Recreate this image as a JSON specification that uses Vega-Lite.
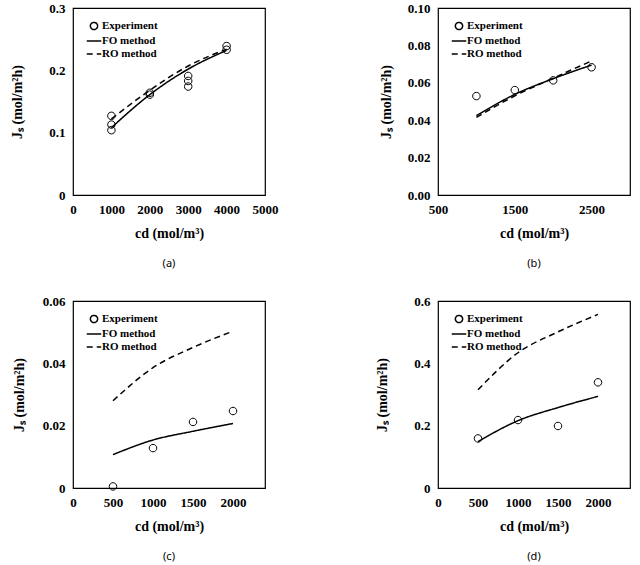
{
  "$schema": "https://vega.github.io/schema/vega-lite/v6.json",
  "background": "white",
  "padding": {"left": 10, "top": 1, "right": 5, "bottom": 2},
  "columns": 2,
  "spacing": {"row": 24, "column": 96},
  "resolve": {
    "scale": {"x": "independent", "y": "independent", "shape": "independent", "strokeDash": "independent"},
    "legend": {"shape": "independent", "strokeDash": "independent"}
  },
  "datasets": {
    "a_exp": [
      {"cd": 1000, "Js": 0.104, "method": "Experiment"},
      {"cd": 1000, "Js": 0.113, "method": "Experiment"},
      {"cd": 1000, "Js": 0.127, "method": "Experiment"},
      {"cd": 2000, "Js": 0.161, "method": "Experiment"},
      {"cd": 2000, "Js": 0.164, "method": "Experiment"},
      {"cd": 3000, "Js": 0.174, "method": "Experiment"},
      {"cd": 3000, "Js": 0.183, "method": "Experiment"},
      {"cd": 3000, "Js": 0.191, "method": "Experiment"},
      {"cd": 4000, "Js": 0.233, "method": "Experiment"},
      {"cd": 4000, "Js": 0.239, "method": "Experiment"}
    ],
    "a_model": [
      {"cd": 1000, "Js": 0.108, "method": "FO method"},
      {"cd": 2000, "Js": 0.161, "method": "FO method"},
      {"cd": 3000, "Js": 0.202, "method": "FO method"},
      {"cd": 4000, "Js": 0.232, "method": "FO method"},
      {"cd": 1000, "Js": 0.122, "method": "RO method"},
      {"cd": 2000, "Js": 0.168, "method": "RO method"},
      {"cd": 3000, "Js": 0.207, "method": "RO method"},
      {"cd": 4000, "Js": 0.234, "method": "RO method"}
    ],
    "b_exp": [
      {"cd": 1000, "Js": 0.0529, "method": "Experiment"},
      {"cd": 1500, "Js": 0.0561, "method": "Experiment"},
      {"cd": 2000, "Js": 0.0613, "method": "Experiment"},
      {"cd": 2500, "Js": 0.0683, "method": "Experiment"}
    ],
    "b_model": [
      {"cd": 1000, "Js": 0.0424, "method": "FO method"},
      {"cd": 1500, "Js": 0.0538, "method": "FO method"},
      {"cd": 2000, "Js": 0.0622, "method": "FO method"},
      {"cd": 2500, "Js": 0.0695, "method": "FO method"},
      {"cd": 1000, "Js": 0.0415, "method": "RO method"},
      {"cd": 1500, "Js": 0.0530, "method": "RO method"},
      {"cd": 2000, "Js": 0.0625, "method": "RO method"},
      {"cd": 2500, "Js": 0.0717, "method": "RO method"}
    ],
    "c_exp": [
      {"cd": 500, "Js": 0.0005, "method": "Experiment"},
      {"cd": 1000, "Js": 0.0128, "method": "Experiment"},
      {"cd": 1500, "Js": 0.0212, "method": "Experiment"},
      {"cd": 2000, "Js": 0.0247, "method": "Experiment"}
    ],
    "c_model": [
      {"cd": 500, "Js": 0.0107, "method": "FO method"},
      {"cd": 1000, "Js": 0.0154, "method": "FO method"},
      {"cd": 1500, "Js": 0.0182, "method": "FO method"},
      {"cd": 2000, "Js": 0.0207, "method": "FO method"},
      {"cd": 500, "Js": 0.0280, "method": "RO method"},
      {"cd": 1000, "Js": 0.0386, "method": "RO method"},
      {"cd": 1500, "Js": 0.0451, "method": "RO method"},
      {"cd": 2000, "Js": 0.0503, "method": "RO method"}
    ],
    "d_exp": [
      {"cd": 500, "Js": 0.159, "method": "Experiment"},
      {"cd": 1000, "Js": 0.218, "method": "Experiment"},
      {"cd": 1500, "Js": 0.199, "method": "Experiment"},
      {"cd": 2000, "Js": 0.339, "method": "Experiment"}
    ],
    "d_model": [
      {"cd": 500, "Js": 0.149, "method": "FO method"},
      {"cd": 1000, "Js": 0.216, "method": "FO method"},
      {"cd": 1500, "Js": 0.258, "method": "FO method"},
      {"cd": 2000, "Js": 0.294, "method": "FO method"},
      {"cd": 500, "Js": 0.315, "method": "RO method"},
      {"cd": 1000, "Js": 0.434, "method": "RO method"},
      {"cd": 1500, "Js": 0.501, "method": "RO method"},
      {"cd": 2000, "Js": 0.557, "method": "RO method"}
    ]
  },
  "concat": [
    {
      "width": 192, "height": 187,
      "title": {"text": "(a)"},
      "encoding": {
        "x": {"field": "cd", "type": "quantitative", "scale": {"domain": [0, 5000], "nice": false}, "axis": {"values": [0, 1000, 2000, 3000, 4000, 5000], "format": "d", "title": "cd (mol/m³)"}},
        "y": {"field": "Js", "type": "quantitative", "scale": {"domain": [0, 0.3], "nice": false}, "axis": {"values": [0, 0.1, 0.2, 0.3], "format": ".1~f", "title": "Jₛ (mol/m²h)", "titlePadding": 24}}
      },
      "layer": [
        {
          "data": {"name": "a_model"},
          "mark": {"type": "line", "interpolate": "monotone", "color": "black", "strokeWidth": 1.5},
          "encoding": {
            "strokeDash": {"field": "method", "type": "nominal", "scale": {"domain": ["Experiment", "FO method", "RO method"], "range": [[1, 0], [1, 0], [6, 4]]}}
          }
        },
        {
          "data": {"name": "a_exp"},
          "mark": {"type": "point", "filled": false, "color": "black", "opacity": 1, "strokeWidth": 1, "size": 225},
          "encoding": {
            "shape": {"field": "method", "type": "nominal", "scale": {"domain": ["Experiment", "FO method", "RO method"], "range": ["M-0.5,0A0.5,0.5 0 1,0 0.5,0A0.5,0.5 0 1,0 -0.5,0", "M-1,0H1", "M-1,0H1"]}}
          }
        }
      ]
    },
    {
      "width": 192, "height": 187,
      "title": {"text": "(b)"},
      "encoding": {
        "x": {"field": "cd", "type": "quantitative", "scale": {"domain": [500, 3000], "nice": false, "zero": false}, "axis": {"values": [500, 1500, 2500], "format": "d", "title": "cd (mol/m³)"}},
        "y": {"field": "Js", "type": "quantitative", "scale": {"domain": [0, 0.1], "nice": false}, "axis": {"values": [0, 0.02, 0.04, 0.06, 0.08, 0.1], "format": ".2f", "title": "Jₛ (mol/m²h)", "titlePadding": 14}}
      },
      "layer": [
        {
          "data": {"name": "b_model"},
          "mark": {"type": "line", "interpolate": "monotone", "color": "black", "strokeWidth": 1.5},
          "encoding": {
            "strokeDash": {"field": "method", "type": "nominal", "scale": {"domain": ["Experiment", "FO method", "RO method"], "range": [[1, 0], [1, 0], [6, 4]]}}
          }
        },
        {
          "data": {"name": "b_exp"},
          "mark": {"type": "point", "filled": false, "color": "black", "opacity": 1, "strokeWidth": 1, "size": 225},
          "encoding": {
            "shape": {"field": "method", "type": "nominal", "scale": {"domain": ["Experiment", "FO method", "RO method"], "range": ["M-0.5,0A0.5,0.5 0 1,0 0.5,0A0.5,0.5 0 1,0 -0.5,0", "M-1,0H1", "M-1,0H1"]}}
          }
        }
      ]
    },
    {
      "width": 192, "height": 187,
      "title": {"text": "(c)"},
      "encoding": {
        "x": {"field": "cd", "type": "quantitative", "scale": {"domain": [0, 2400], "nice": false}, "axis": {"values": [0, 500, 1000, 1500, 2000], "format": "d", "title": "cd (mol/m³)"}},
        "y": {"field": "Js", "type": "quantitative", "scale": {"domain": [0, 0.06], "nice": false}, "axis": {"values": [0, 0.02, 0.04, 0.06], "format": ".2~f", "title": "Jₛ (mol/m²h)", "titlePadding": 16}}
      },
      "layer": [
        {
          "data": {"name": "c_model"},
          "mark": {"type": "line", "interpolate": "monotone", "color": "black", "strokeWidth": 1.5},
          "encoding": {
            "strokeDash": {"field": "method", "type": "nominal", "scale": {"domain": ["Experiment", "FO method", "RO method"], "range": [[1, 0], [1, 0], [6, 4]]}}
          }
        },
        {
          "data": {"name": "c_exp"},
          "mark": {"type": "point", "filled": false, "color": "black", "opacity": 1, "strokeWidth": 1, "size": 225},
          "encoding": {
            "shape": {"field": "method", "type": "nominal", "scale": {"domain": ["Experiment", "FO method", "RO method"], "range": ["M-0.5,0A0.5,0.5 0 1,0 0.5,0A0.5,0.5 0 1,0 -0.5,0", "M-1,0H1", "M-1,0H1"]}}
          }
        }
      ]
    },
    {
      "width": 192, "height": 187,
      "title": {"text": "(d)"},
      "encoding": {
        "x": {"field": "cd", "type": "quantitative", "scale": {"domain": [0, 2400], "nice": false}, "axis": {"values": [0, 500, 1000, 1500, 2000], "format": "d", "title": "cd (mol/m³)"}},
        "y": {"field": "Js", "type": "quantitative", "scale": {"domain": [0, 0.6], "nice": false}, "axis": {"values": [0, 0.2, 0.4, 0.6], "format": ".1~f", "title": "Jₛ (mol/m²h)", "titlePadding": 24}}
      },
      "layer": [
        {
          "data": {"name": "d_model"},
          "mark": {"type": "line", "interpolate": "monotone", "color": "black", "strokeWidth": 1.5},
          "encoding": {
            "strokeDash": {"field": "method", "type": "nominal", "scale": {"domain": ["Experiment", "FO method", "RO method"], "range": [[1, 0], [1, 0], [6, 4]]}}
          }
        },
        {
          "data": {"name": "d_exp"},
          "mark": {"type": "point", "filled": false, "color": "black", "opacity": 1, "strokeWidth": 1, "size": 225},
          "encoding": {
            "shape": {"field": "method", "type": "nominal", "scale": {"domain": ["Experiment", "FO method", "RO method"], "range": ["M-0.5,0A0.5,0.5 0 1,0 0.5,0A0.5,0.5 0 1,0 -0.5,0", "M-1,0H1", "M-1,0H1"]}}
          }
        }
      ]
    }
  ],
  "config": {
    "font": "Liberation Serif",
    "view": {"stroke": "black", "strokeWidth": 1.2},
    "title": {"orient": "bottom", "font": "Noto Sans", "fontSize": 11, "fontWeight": "normal", "color": "black", "offset": 18, "anchor": "middle"},
    "axis": {
      "grid": false, "ticks": false, "domain": false,
      "labelFont": "Liberation Serif", "labelFontWeight": "bold", "labelFontSize": 13, "labelColor": "black",
      "labelPadding": 8, "labelFlush": false, "labelOverlap": false,
      "titleFont": "Liberation Serif", "titleFontWeight": "bold", "titleFontSize": 14, "titleColor": "black"
    },
    "axisX": {"titlePadding": 10},
    "legend": {
      "orient": "none", "legendX": 13, "legendY": 10, "title": null,
      "labelFont": "Liberation Serif", "labelFontWeight": "bold", "labelFontSize": 11, "labelColor": "black",
      "labelOffset": 0, "rowPadding": 0, "symbolSize": 210,
      "symbolStrokeColor": "black", "symbolStrokeWidth": 1.5, "padding": 0
    }
  }
}
